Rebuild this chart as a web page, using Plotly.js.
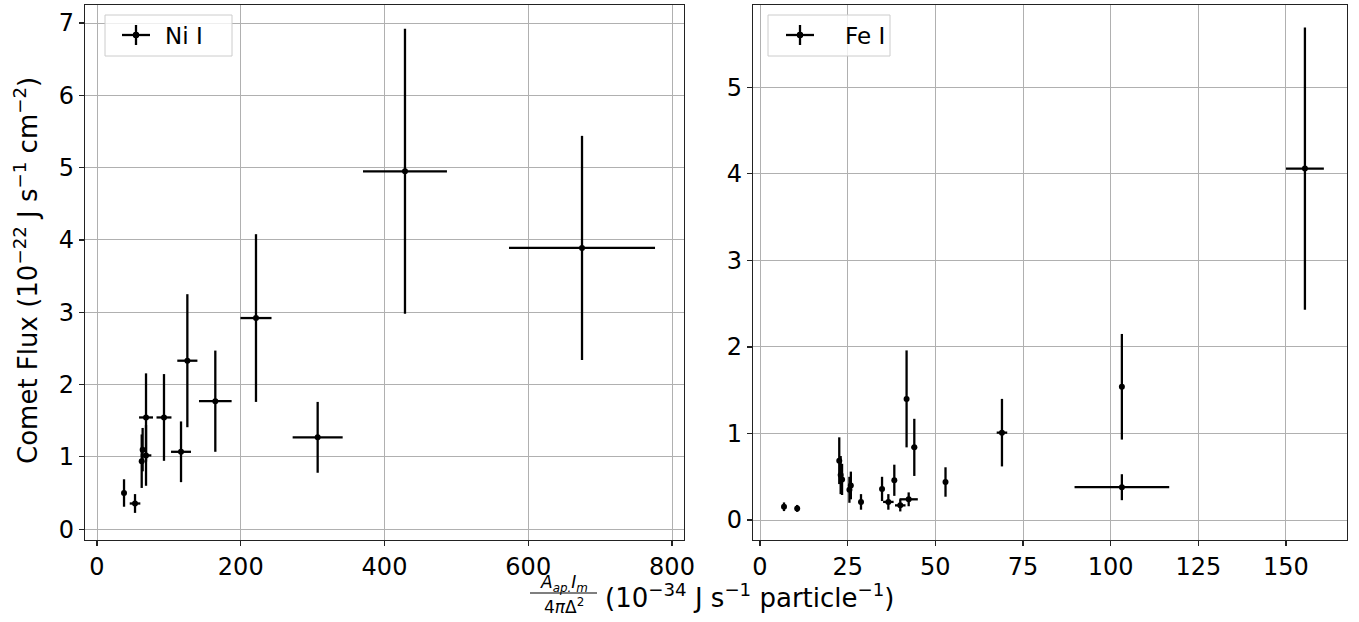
<!DOCTYPE html>
<html>
<head>
<meta charset="utf-8">
<script src="https://cdn.plot.ly/plotly-3.0.1.min.js"></script>
<style>html,body{margin:0;padding:0;background:#fff;}#chart{width:1359px;height:622px;}</style>
</head>
<body>
<div id="chart"></div>
<script>
// Ni I data
const niX    = [37.6, 52.9, 62.2, 63.5, 68.2, 68.2, 93.2, 116.9, 125.7, 164.6, 221.2, 307, 428.5, 674.8];
const niY    = [0.50, 0.355, 0.94, 1.10, 1.545, 1.02, 1.545, 1.07, 2.33, 1.77, 2.92, 1.27, 4.95, 3.89];
const niXerr = [1.5, 7.4, 1.5, 1.5, 9.7, 7.4, 10.4, 13.9, 14, 22.7, 21.6, 34.8, 58.4, 101.6];
const niYerr = [0.19, 0.13, 0.37, 0.30, 0.61, 0.42, 0.60, 0.42, 0.92, 0.70, 1.16, 0.49, 1.97, 1.55];
// Fe I data
const feX    = [6.84, 10.6, 22.6, 23.0, 23.4, 25.9, 25.5, 28.8, 34.8, 36.6, 38.3, 40.0, 42.4, 41.8, 44.0, 52.9, 69.0, 103.2, 103.2, 155.4];
const feY    = [0.154, 0.135, 0.686, 0.52, 0.47, 0.40, 0.35, 0.21, 0.36, 0.21, 0.46, 0.17, 0.24, 1.40, 0.84, 0.44, 1.01, 1.54, 0.38, 4.06];
const feXerr = [0.6, 0.6, 0.6, 0.6, 0.6, 0.6, 0.6, 0.6, 0.6, 1.5, 0.6, 1.5, 2.6, 0.6, 0.8, 0.6, 1.5, 0.6, 13.5, 5.4];
const feYerr = [0.05, 0.04, 0.27, 0.22, 0.18, 0.16, 0.15, 0.09, 0.14, 0.09, 0.18, 0.07, 0.08, 0.56, 0.33, 0.17, 0.39, 0.61, 0.15, 1.63];

const W = 1359, H = 622;
const px = x => x / W;
const py = y => 1 - y / H;
const FAM = 'DejaVu Sans, sans-serif';

function trace(x, y, xe, ye, name, xa, ya) {
  return {
    x: x, y: y, type: 'scatter', mode: 'markers', name: name,
    xaxis: xa, yaxis: ya, showlegend: false,
    marker: {color: 'black', size: 6},
    error_x: {type: 'data', array: xe, visible: true, color: 'black', thickness: 2.3, width: 0},
    error_y: {type: 'data', array: ye, visible: true, color: 'black', thickness: 2.3, width: 0}
  };
}

const tickFont = {family: FAM, size: 24, color: 'black'};
const axisCommon = {
  showgrid: true, gridcolor: '#b0b0b0', gridwidth: 1,
  showline: true, linecolor: '#222', linewidth: 1.2, mirror: true,
  ticks: 'outside', ticklen: 5, tickwidth: 1.2, tickcolor: '#222',
  zeroline: false, tickfont: tickFont
};

const data = [
  trace(niX, niY, niXerr, niYerr, 'Ni I', 'x', 'y'),
  trace(feX, feY, feXerr, feYerr, 'Fe I', 'x2', 'y2')
];

function legendShapes(x0, x1, cx) {
  return [
    {type: 'rect', xref: 'paper', yref: 'paper', x0: px(x0), x1: px(x1), y0: py(56), y1: py(15),
     line: {color: '#cccccc', width: 1}, fillcolor: 'rgba(255,255,255,0.8)', layer: 'above'},
    {type: 'line', xref: 'paper', yref: 'paper', x0: px(cx - 14), x1: px(cx + 14), y0: py(35), y1: py(35),
     line: {color: 'black', width: 2.3}, layer: 'above'},
    {type: 'line', xref: 'paper', yref: 'paper', x0: px(cx), x1: px(cx), y0: py(25), y1: py(45),
     line: {color: 'black', width: 2.3}, layer: 'above'},
    {type: 'circle', xref: 'paper', yref: 'paper', x0: px(cx - 3), x1: px(cx + 3), y0: py(38), y1: py(32),
     line: {color: 'black', width: 1}, fillcolor: 'black', layer: 'above'}
  ];
}

const layout = {
  width: W, height: H,
  margin: {l: 0, r: 0, t: 0, b: 0},
  paper_bgcolor: 'white', plot_bgcolor: 'white',
  showlegend: false,
  font: tickFont,
  xaxis: Object.assign({}, axisCommon, {domain: [px(85), px(684)], range: [-16.7, 816.7], dtick: 200, anchor: 'y'}),
  yaxis: Object.assign({}, axisCommon, {domain: [py(540), py(5)], range: [-0.15, 7.25], dtick: 1, anchor: 'x'}),
  xaxis2: Object.assign({}, axisCommon, {domain: [px(753), px(1347)], range: [-2, 167.4], dtick: 25, anchor: 'y2'}),
  yaxis2: Object.assign({}, axisCommon, {domain: [py(540), py(5)], range: [-0.23, 5.95], dtick: 1, anchor: 'x2'}),
  shapes: [].concat(
    legendShapes(105, 232, 136),
    legendShapes(768, 890, 800),
    [{type: 'line', xref: 'paper', yref: 'paper', x0: px(530), x1: px(597), y0: py(593), y1: py(593),
      line: {color: 'black', width: 1.2}}]
  ),
  annotations: [
    {xref: 'paper', yref: 'paper', x: px(26), y: py(271), xanchor: 'center', yanchor: 'middle', showarrow: false,
     textangle: -90, text: 'Comet Flux (10<sup>−22</sup> J s<sup>−1</sup> cm<sup>−2</sup>)', font: {family: FAM, size: 26, color: 'black'}},
    {xref: 'paper', yref: 'paper', x: px(163), y: py(36), xanchor: 'left', yanchor: 'middle', showarrow: false,
     text: 'Ni I', font: {family: FAM, size: 23, color: 'black'}},
    {xref: 'paper', yref: 'paper', x: px(843), y: py(36), xanchor: 'left', yanchor: 'middle', showarrow: false,
     text: 'Fe I', font: {family: FAM, size: 23, color: 'black'}},
    {xref: 'paper', yref: 'paper', x: px(564), y: py(583), xanchor: 'center', yanchor: 'middle', showarrow: false,
     text: '<i>A</i><sub><i>ap.</i></sub><i>I</i><sub><i>m</i></sub>', font: {family: FAM, size: 17, color: 'black'}},
    {xref: 'paper', yref: 'paper', x: px(564), y: py(606), xanchor: 'center', yanchor: 'middle', showarrow: false,
     text: '4<i>π</i>Δ<sup>2</sup>', font: {family: FAM, size: 17, color: 'black'}},
    {xref: 'paper', yref: 'paper', x: px(603), y: py(596), xanchor: 'left', yanchor: 'middle', showarrow: false,
     text: '(10<sup>−34</sup> J s<sup>−1</sup> particle<sup>−1</sup>)', font: {family: FAM, size: 26, color: 'black'}}
  ]
};

Plotly.newPlot('chart', data, layout, {displayModeBar: false, staticPlot: true});
</script>
</body>
</html>
